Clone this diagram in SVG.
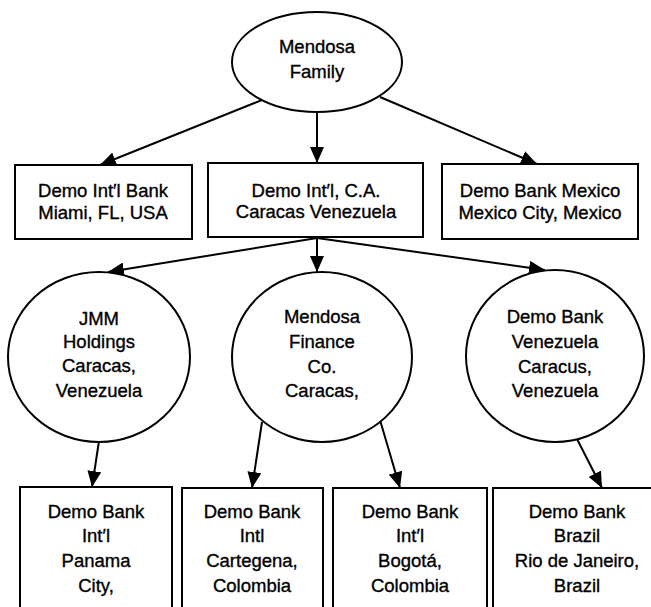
<svg xmlns="http://www.w3.org/2000/svg" width="651" height="607" viewBox="0 0 651 607">
<defs>
<style>
.n{fill:#fff;stroke:#000;stroke-width:2}
.t{font-family:"Liberation Sans",Arial,sans-serif;font-size:18.5px;fill:#000;stroke:#000;stroke-width:0.35;text-anchor:middle}
.c{stroke:#000;stroke-width:2;fill:none}
</style>
<marker id="ah" viewBox="0 0 16 14" refX="16" refY="7" markerWidth="16" markerHeight="14" markerUnits="userSpaceOnUse" orient="auto">
<path d="M0,0 L16,7 L0,14 Z" fill="#000"/>
</marker>
</defs>
<rect width="651" height="607" fill="#fff"/>
<g id="connectors">
<line class="c" x1="262" y1="100" x2="100" y2="165" marker-end="url(#ah)"/>
<line class="c" x1="317" y1="112" x2="317" y2="163" marker-end="url(#ah)"/>
<line class="c" x1="380" y1="97" x2="537" y2="164" marker-end="url(#ah)"/>
<line class="c" x1="317" y1="238" x2="108" y2="272" marker-end="url(#ah)"/>
<line class="c" x1="317" y1="238" x2="317" y2="272" marker-end="url(#ah)"/>
<line class="c" x1="317" y1="238" x2="545" y2="270" marker-end="url(#ah)"/>
<line class="c" x1="99" y1="441" x2="92" y2="487" marker-end="url(#ah)"/>
<line class="c" x1="262" y1="422" x2="252" y2="488" marker-end="url(#ah)"/>
<line class="c" x1="380" y1="420" x2="400" y2="488" marker-end="url(#ah)"/>
<line class="c" x1="577" y1="439" x2="602" y2="488" marker-end="url(#ah)"/>
</g>
<g id="mendosa-family">
<ellipse class="n" cx="317" cy="62" rx="85" ry="50"/>
<text class="t" x="317" y="53">Mendosa</text>
<text class="t" x="317" y="78">Family</text>
</g>
<g id="demo-intl-bank-miami">
<rect class="n" x="15" y="165" width="177" height="74"/>
<text class="t" x="103" y="197">Demo Int′l Bank</text>
<text class="t" x="103" y="219">Miami, FL, USA</text>
</g>
<g id="demo-intl-ca">
<rect class="n" x="208" y="163" width="215" height="74"/>
<text class="t" x="316" y="197">Demo Int′l, C.A.</text>
<text class="t" x="316" y="218">Caracas Venezuela</text>
</g>
<g id="demo-bank-mexico">
<rect class="n" x="442" y="164" width="196" height="75"/>
<text class="t" x="540" y="197">Demo Bank Mexico</text>
<text class="t" x="540" y="219">Mexico City, Mexico</text>
</g>
<g id="jmm-holdings">
<ellipse class="n" cx="99" cy="357" rx="91" ry="85"/>
<text class="t" x="99" y="325">JMM</text>
<text class="t" x="99" y="348">Holdings</text>
<text class="t" x="99" y="372">Caracas,</text>
<text class="t" x="99" y="397">Venezuela</text>
</g>
<g id="mendosa-finance">
<ellipse class="n" cx="322" cy="357" rx="90" ry="85"/>
<text class="t" x="322" y="323">Mendosa</text>
<text class="t" x="322" y="348">Finance</text>
<text class="t" x="322" y="373">Co.</text>
<text class="t" x="322" y="397">Caracas,</text>
</g>
<g id="demo-bank-venezuela">
<ellipse class="n" cx="555" cy="356" rx="89" ry="86"/>
<text class="t" x="555" y="323">Demo Bank</text>
<text class="t" x="555" y="348">Venezuela</text>
<text class="t" x="555" y="373">Caracus,</text>
<text class="t" x="555" y="397">Venezuela</text>
</g>
<g id="demo-bank-panama">
<rect class="n" x="20" y="487" width="152" height="130"/>
<text class="t" x="96" y="518">Demo Bank</text>
<text class="t" x="96" y="542">Int′l</text>
<text class="t" x="96" y="567">Panama</text>
<text class="t" x="96" y="592">City,</text>
</g>
<g id="demo-bank-cartegena">
<rect class="n" x="182" y="488" width="141" height="130"/>
<text class="t" x="252" y="518">Demo Bank</text>
<text class="t" x="252" y="542">Intl</text>
<text class="t" x="252" y="567">Cartegena,</text>
<text class="t" x="252" y="592">Colombia</text>
</g>
<g id="demo-bank-bogota">
<rect class="n" x="333" y="488" width="154" height="130"/>
<text class="t" x="410" y="518">Demo Bank</text>
<text class="t" x="410" y="542">Int′l</text>
<text class="t" x="410" y="567">Bogotá,</text>
<text class="t" x="410" y="592">Colombia</text>
</g>
<g id="demo-bank-brazil">
<rect class="n" x="493" y="488" width="168" height="130"/>
<text class="t" x="577" y="518">Demo Bank</text>
<text class="t" x="577" y="542">Brazil</text>
<text class="t" x="577" y="567">Rio de Janeiro,</text>
<text class="t" x="577" y="592">Brazil</text>
</g>
</svg>
